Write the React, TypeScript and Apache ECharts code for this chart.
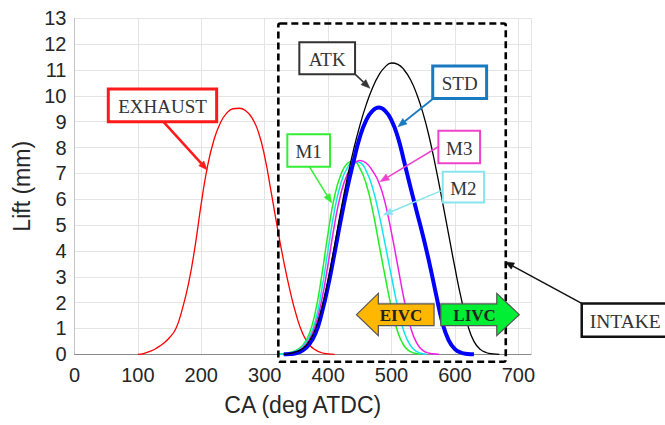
import React, { useEffect, useRef } from "react";
import * as echarts from "echarts";

// ---------------- data ----------------
const xTickValues = [0, 100, 200, 300, 400, 500, 600, 700];
const yTickValues = [0, 1, 2, 3, 4, 5, 6, 7, 8, 9, 10, 11, 12, 13];

const exhaustCA = [100, 110, 120, 130, 140, 150, 160, 170, 180, 190, 200, 210, 220, 230, 240, 250, 260, 270, 280, 290, 300, 310, 320, 330, 340, 350, 360, 370, 380, 390, 400, 410];
const exhaustLift = [0, 0.04, 0.12, 0.25, 0.42, 0.65, 1.0, 1.75, 2.75, 4.15, 5.85, 7.3, 8.3, 8.95, 9.33, 9.5, 9.52, 9.42, 9.15, 8.6, 7.65, 6.3, 4.9, 3.6, 2.45, 1.5, 0.8, 0.38, 0.17, 0.06, 0.015, 0];

const atkCA = [330, 340, 350, 360, 370, 380, 390, 400, 410, 420, 430, 440, 450, 460, 470, 480, 490, 500, 510, 520, 530, 540, 550, 560, 570, 580, 590, 600, 610, 620, 630, 640, 650, 660, 670];
const atkLift = [0, 0.03, 0.1, 0.22, 0.5, 0.98, 1.78, 2.88, 4.18, 5.55, 6.8, 7.9, 8.85, 9.65, 10.3, 10.8, 11.12, 11.27, 11.22, 11.0, 10.62, 10.05, 9.3, 8.35, 7.2, 5.95, 4.65, 3.35, 2.15, 1.15, 0.5, 0.19, 0.06, 0.015, 0];

const stdCA = [330, 340, 350, 360, 370, 380, 390, 400, 410, 420, 430, 440, 450, 460, 470, 480, 490, 500, 510, 520, 530, 540, 550, 560, 570, 580, 590, 600, 610, 620, 630];
const stdLift = [0, 0.01, 0.05, 0.15, 0.38, 0.8, 1.6, 2.65, 3.9, 5.2, 6.4, 7.45, 8.4, 9.05, 9.42, 9.55, 9.42, 9.05, 8.4, 7.45, 6.45, 5.5, 4.55, 3.5, 2.35, 1.25, 0.55, 0.2, 0.06, 0.015, 0];

const m1CA = [320, 330, 340, 350, 360, 370, 380, 390, 400, 410, 420, 430, 440, 450, 460, 470, 480, 490, 500, 510, 520, 530, 540, 545];
const m1Lift = [0, 0.02, 0.07, 0.16, 0.35, 0.78, 1.65, 3.05, 4.7, 6.1, 6.95, 7.38, 7.48, 7.2, 6.6, 5.6, 4.3, 3.0, 1.8, 0.85, 0.32, 0.1, 0.02, 0];

const m2CA = [320, 330, 340, 350, 360, 370, 380, 390, 400, 410, 420, 430, 440, 450, 460, 470, 480, 490, 500, 510, 520, 530, 540, 550, 555];
const m2Lift = [0, 0.01, 0.05, 0.13, 0.3, 0.65, 1.3, 2.5, 4.05, 5.55, 6.6, 7.2, 7.45, 7.42, 7.1, 6.45, 5.45, 4.25, 3.0, 1.8, 0.85, 0.33, 0.1, 0.02, 0];

const m3CA = [330, 340, 350, 360, 370, 380, 390, 400, 410, 420, 430, 440, 450, 460, 470, 480, 490, 500, 510, 520, 530, 540, 550, 560, 570, 575];
const m3Lift = [0, 0.03, 0.1, 0.25, 0.55, 1.12, 2.1, 3.5, 5.0, 6.2, 6.95, 7.35, 7.5, 7.4, 7.1, 6.65, 5.85, 4.7, 3.4, 2.1, 1.05, 0.42, 0.14, 0.04, 0.01, 0];

const seriesNames = ["EXHAUST", "ATK", "M1", "M2", "M3", "STD"];

// ---------------- annotation layout (data coordinates) ----------------
const labelBoxes = [
  { text: "EXHAUST", x0: 53.3, x1: 224.2, y0: 10.26, y1: 9.0, color: "#ff1a1a", lw: 3, from: [140, 9.0], to: [209.5, 7.13], aw: 2.5, fs: 19 },
  { text: "ATK", x0: 354.6, x1: 442.5, y0: 12.07, y1: 10.84, color: "#333333", lw: 2, from: [442.5, 10.84], to: [466, 10.29], aw: 1.5, fs: 19 },
  { text: "STD", x0: 565, x1: 650, y0: 11.15, y1: 9.9, color: "#1a7abf", lw: 3, from: [566, 9.9], to: [510, 8.8], aw: 1.8, fs: 19 },
  { text: "M1", x0: 335.7, x1: 403, y0: 8.51, y1: 7.26, color: "#33ee33", lw: 2, from: [370.4, 7.26], to: [405.7, 5.85], aw: 1.5, fs: 19 },
  { text: "M3", x0: 573.9, x1: 639.7, y0: 8.65, y1: 7.39, color: "#ee44cc", lw: 2, from: [573.9, 8.03], to: [481.9, 6.68], aw: 1.5, fs: 19 },
  { text: "M2", x0: 580.8, x1: 646, y0: 7.06, y1: 5.87, color: "#88e4ee", lw: 2, from: [581.8, 6.36], to: [487.1, 5.39], aw: 1.5, fs: 19 },
  { text: "INTAKE", x0: 800, x1: 980, y0: 1.97, y1: 0.68, color: "#111111", lw: 2.5, from: [800, 1.97], to: [679, 3.58], aw: 1.5, fs: 19.5, alignLeft: true },
];
const intakeRegion = { x0: 321.5, x1: 680.2, y0: 12.8, y1: -0.29 };
const eivcArrow = { tip: 444.8, headBase: 479.2, end: 567.1, yMid: 1.535, headTop: 2.36, headBot: 0.72, bodyTop: 1.95, bodyBot: 1.11, textX: 515 };
const livcArrow = { start: 577.7, headBase: 666, tip: 701.6, textX: 631 };

const pairs = (xs: number[], ys: number[]) => xs.map((x, i) => [x, ys[i]]);

export default function App() {
  const ref = useRef<HTMLDivElement>(null);
  useEffect(() => {
    const chart = echarts.init(ref.current!, null, { renderer: "svg" });
    const sansFont = "'Liberation Sans', Arial, sans-serif";
    const mk = (name: string, xs: number[], ys: number[], color: string, width: number) => ({
      name,
      type: "line",
      data: pairs(xs, ys),
      showSymbol: false,
      symbol: "none",
      smooth: 0.5,
      lineStyle: { color, width },
      itemStyle: { color },
      clip: false,
    });
    chart.setOption({
      animation: false,
      backgroundColor: "#ffffff",
      grid: { left: 74.5, right: 134, top: 18.3, bottom: 70.7, containLabel: false, outerBoundsMode: "none" },
      xAxis: {
        type: "value",
        min: 0,
        max: 720,
        interval: 100,
        name: "CA (deg ATDC)",
        nameLocation: "middle",
        nameGap: 39,
        nameTextStyle: { fontSize: 23, color: "#262626", fontFamily: sansFont },
        axisLine: { show: true, lineStyle: { color: "#8a8a8a", width: 1 } },
        axisTick: { show: false },
        axisLabel: {
          fontSize: 20,
          color: "#262626",
          fontFamily: sansFont,
          margin: 11,
          formatter: (v: number) => (xTickValues.includes(v) ? String(v) : ""),
        },
        splitLine: { show: true, lineStyle: { color: "#e4e4e4", width: 1 } },
      },
      yAxis: {
        type: "value",
        min: 0,
        max: 13,
        interval: 1,
        name: "Lift (mm)",
        nameLocation: "middle",
        nameGap: 34,
        nameTextStyle: { fontSize: 23, color: "#262626", fontFamily: sansFont },
        axisLine: { show: true, lineStyle: { color: "#c4c4c4", width: 1 } },
        axisTick: { show: false },
        axisLabel: {
          fontSize: 20,
          color: "#262626",
          fontFamily: sansFont,
          margin: 8,
          formatter: (v: number) => (yTickValues.includes(v) ? String(v) : ""),
        },
        splitLine: { show: true, lineStyle: { color: "#e4e4e4", width: 1 } },
      },
      series: [
        mk(seriesNames[0], exhaustCA, exhaustLift, "#ff0000", 1.3),
        mk(seriesNames[2], m1CA, m1Lift, "#22ee22", 1.5),
        mk(seriesNames[3], m2CA, m2Lift, "#11e6ee", 1.5),
        mk(seriesNames[4], m3CA, m3Lift, "#f020e8", 1.5),
        mk(seriesNames[5], stdCA, stdLift, "#0000ff", 4),
        mk(seriesNames[1], atkCA, atkLift, "#000000", 1.3),
      ],
    });

    const P = (x: number, y: number) => chart.convertToPixel({ gridIndex: 0 }, [x, y]) as number[];
    const Z = 100;
    const els: any[] = [];
    const serif = "'Liberation Serif', 'Times New Roman', serif";

    const arrowEls = (a: number[], b: number[], color: string, w: number) => {
      const [x1, y1] = a;
      const [x2, y2] = b;
      const dx = x2 - x1, dy = y2 - y1;
      const L = Math.hypot(dx, dy);
      const ux = dx / L, uy = dy / L;
      const head = 9, hw = 3.5;
      const bx = x2 - ux * head, by = y2 - uy * head;
      const nx = -uy, ny = ux;
      return [
        { type: "line", z: Z, shape: { x1, y1, x2: bx, y2: by }, style: { stroke: color, lineWidth: w } },
        {
          type: "polygon",
          z: Z,
          shape: { points: [[x2, y2], [bx + nx * hw, by + ny * hw], [bx - nx * hw, by - ny * hw]] },
          style: { fill: color, stroke: color, lineWidth: 0.5 },
        },
      ];
    };

    // dashed intake region
    {
      const p0 = P(intakeRegion.x0, intakeRegion.y0);
      const p1 = P(intakeRegion.x1, intakeRegion.y1);
      els.push({
        type: "rect",
        z: Z,
        shape: { x: p0[0], y: p0[1], width: p1[0] - p0[0], height: p1[1] - p0[1], r: 2 },
        style: { fill: "none", stroke: "#000000", lineWidth: 2.6, lineDash: [7, 4] },
      });
    }

    labelBoxes.forEach((b) => {
      const p0 = P(b.x0, b.y0);
      const p1 = P(b.x1, b.y1);
      els.push(...arrowEls(P(b.from[0], b.from[1]), P(b.to[0], b.to[1]), b.color, b.aw));
      els.push({
        type: "rect",
        z: Z + 1,
        shape: { x: p0[0], y: p0[1], width: p1[0] - p0[0], height: p1[1] - p0[1] },
        style: { fill: "#ffffff", stroke: b.color, lineWidth: b.lw },
      });
      els.push({
        type: "text",
        z: Z + 2,
        x: b.alignLeft ? p0[0] + 8 : (p0[0] + p1[0]) / 2,
        y: (p0[1] + p1[1]) / 2 + 1,
        style: {
          text: b.text,
          fontSize: b.fs,
          fontFamily: serif,
          fill: "#333333",
          align: b.alignLeft ? "left" : "center",
          verticalAlign: "middle",
        },
      });
    });

    // EIVC block arrow (pointing left)
    {
      const e = eivcArrow;
      const pts = [
        P(e.tip, e.yMid),
        P(e.headBase, e.headTop),
        P(e.headBase, e.bodyTop),
        P(e.end, e.bodyTop),
        P(e.end, e.bodyBot),
        P(e.headBase, e.bodyBot),
        P(e.headBase, e.headBot),
      ];
      els.push({ type: "polygon", z: Z + 3, shape: { points: pts }, style: { fill: "#ffb700", stroke: "#555555", lineWidth: 1.2 } });
      const t = P(e.textX, e.yMid);
      els.push({
        type: "text",
        z: Z + 4,
        x: t[0],
        y: t[1] + 1,
        style: { text: "EIVC", fontSize: 17, fontWeight: "bold", fontFamily: serif, fill: "#222222", align: "center", verticalAlign: "middle" },
      });
    }
    // LIVC block arrow (pointing right)
    {
      const e = eivcArrow;
      const l = livcArrow;
      const pts = [
        P(l.start, e.bodyTop),
        P(l.headBase, e.bodyTop),
        P(l.headBase, e.headTop),
        P(l.tip, e.yMid),
        P(l.headBase, e.headBot),
        P(l.headBase, e.bodyBot),
        P(l.start, e.bodyBot),
      ];
      els.push({ type: "polygon", z: Z + 3, shape: { points: pts }, style: { fill: "#00ee33", stroke: "#555555", lineWidth: 1.2 } });
      const t = P(l.textX, e.yMid);
      els.push({
        type: "text",
        z: Z + 4,
        x: t[0],
        y: t[1] + 1,
        style: { text: "LIVC", fontSize: 17, fontWeight: "bold", fontFamily: serif, fill: "#222222", align: "center", verticalAlign: "middle" },
      });
    }

    chart.setOption({ graphic: { elements: els } });
    return () => chart.dispose();
  }, []);
  return <div ref={ref} style={{ position: "fixed", left: 0, top: 0, width: 665, height: 425 }} />;
}
